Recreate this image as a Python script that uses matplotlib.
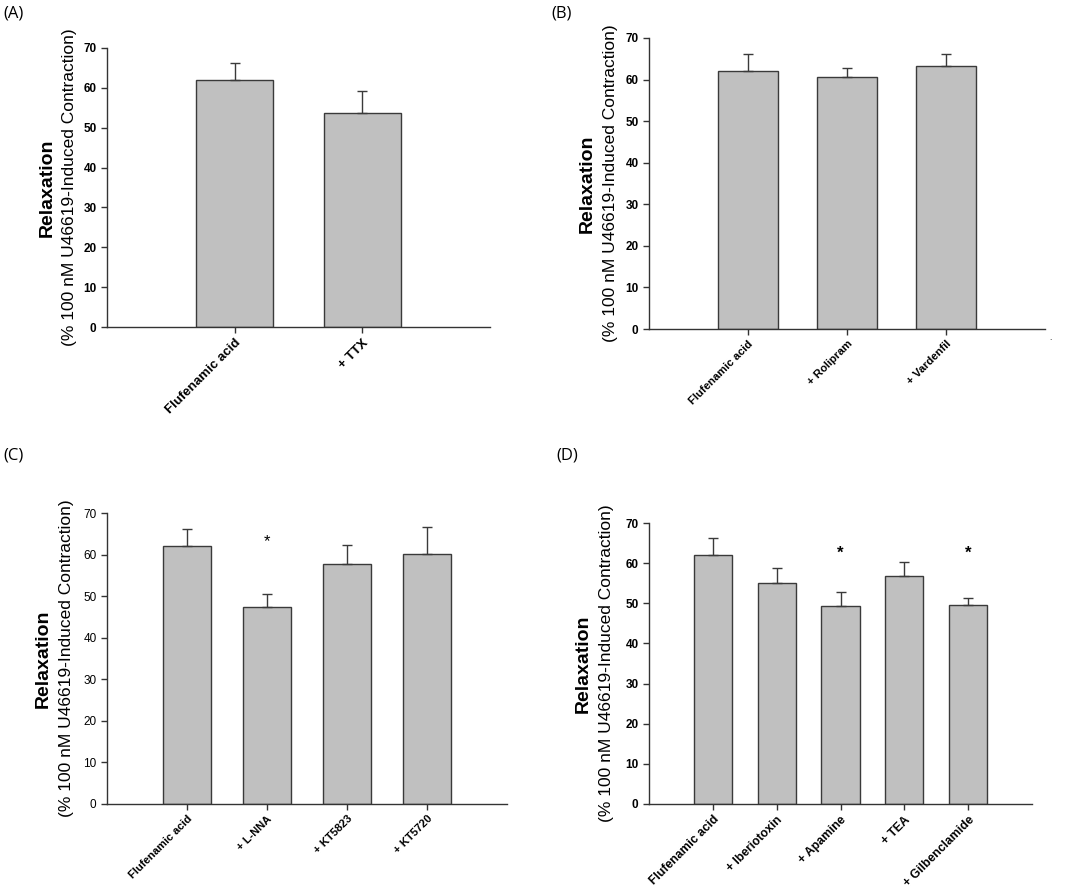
import matplotlib
matplotlib.use("Agg")
import matplotlib.pyplot as plt

plt.rcParams['font.family'] = ['Liberation Sans', 'DejaVu Sans']

# ---------------- data ----------------
cats_a = ["Flufenamic acid", "+ TTX"]
vals_a = [62.0, 53.8]
errs_a = [4.2, 5.4]

cats_b = ["Flufenamic acid", "+ Rolipram", "+ Vardenfil"]
vals_b = [62.0, 60.5, 63.3]
errs_b = [4.2, 2.3, 2.9]

cats_c = ["Flufenamic acid", "+ L-NNA", "+ KT5823", "+ KT5720"]
vals_c = [62.0, 47.4, 57.8, 60.2]
errs_c = [4.2, 3.0, 4.6, 6.4]
sig_c = [False, True, False, False]

cats_d = ["Flufenamic acid", "+ Iberiotoxin", "+ Apamine", "+ TEA", "+ Gilbenclamide"]
vals_d = [62.0, 55.0, 49.2, 56.7, 49.6]
errs_d = [4.2, 3.7, 3.7, 3.5, 1.6]
sig_d = [False, False, True, False, True]

yticks = [0, 10, 20, 30, 40, 50, 60, 70]
ylabel_main = "Relaxation"
ylabel_sub = "(% 100 nM U46619-Induced Contraction)"

W, H = 1065, 891
fig = plt.figure(figsize=(W / 100, H / 100), dpi=100)

BAR = "#c0c0c0"
EDGE = "#3a3a3a"


def px_axes(l, r, t, b):
    return fig.add_axes([l / W, 1 - b / H, (r - l) / W, (b - t) / H])


def panel(ax, cats, vals, errs, sig, xfs, ytick_bold, letter, letter_xy,
          lab_off_main, lab_off_sub, star_y=None):
    n = len(cats)
    x = list(range(n))
    ax.bar(x, vals, width=0.6, color=BAR, edgecolor=EDGE, linewidth=1.0, zorder=2)
    ax.errorbar(x, vals, yerr=[[0] * n, errs], fmt='none', ecolor=EDGE,
                elinewidth=1.0, capsize=3.5, capthick=1.0, zorder=3)
    ax.set_xlim(-1, n)
    ax.set_ylim(0, 70)
    ax.set_yticks(yticks)
    ax.set_yticklabels([str(t) for t in yticks], fontsize=8.5,
                       fontweight='bold' if ytick_bold else 'normal')
    ax.set_xticks(x)
    ax.set_xticklabels(cats, rotation=45, ha='right', rotation_mode='anchor',
                       fontsize=xfs, fontweight='bold')
    for s in ['top', 'right']:
        ax.spines[s].set_visible(False)
    for s in ['left', 'bottom']:
        ax.spines[s].set_linewidth(1.0)
        ax.spines[s].set_color("#333333")
    ax.tick_params(axis='both', direction='out', length=4, width=1.0, color="#333333")
    ax.tick_params(axis='x', pad=3)
    if sig is not None:
        for i, s in enumerate(sig):
            if s:
                ax.text(i, star_y, "*", ha='center', va='center', fontsize=12,
                        fontweight='bold' if ytick_bold else 'normal')
    pos = ax.get_position()
    left_px = pos.x0 * W
    yc = (pos.y0 + pos.y1) / 2
    fig.text((left_px - lab_off_main) / W, yc, ylabel_main, rotation=90,
             ha='center', va='center', fontsize=14, fontweight='bold')
    fig.text((left_px - lab_off_sub) / W, yc, ylabel_sub, rotation=90,
             ha='center', va='center', fontsize=12.5)
    fig.text(letter_xy[0] / W, 1 - letter_xy[1] / H, letter, ha='left',
             va='center', fontsize=12, family=['Open Sans', 'DejaVu Sans'])


ax_a = px_axes(107, 490, 48, 327)
panel(ax_a, cats_a, vals_a, errs_a, None, 9.5, True, "(A)", (3, 13), 60, 37)

ax_b = px_axes(649, 1045, 38, 329)
panel(ax_b, cats_b, vals_b, errs_b, None, 8.1, True, "(B)", (551, 13), 62, 39)
fig.text(1050 / W, 1 - 338 / H, ".", fontsize=6, ha='center', va='center')

ax_c = px_axes(107, 507, 513, 804)
panel(ax_c, cats_c, vals_c, errs_c, sig_c, 8.0, False, "(C)", (3, 456), 64, 40, star_y=63.2)

ax_d = px_axes(649, 1032, 523, 804)
panel(ax_d, cats_d, vals_d, errs_d, sig_d, 8.7, True, "(D)", (556, 456), 66, 43, star_y=62.5)

fig.savefig("out.png", dpi=100, facecolor='white')
